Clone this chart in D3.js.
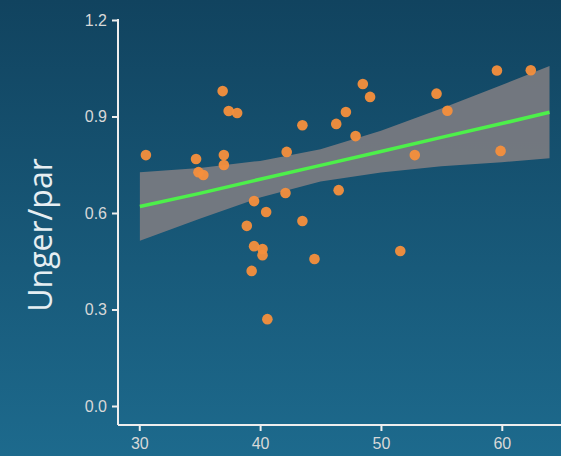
<!DOCTYPE html>
<html>
<head>
<meta charset="utf-8">
<script src="https://d3js.org/d3.v7.min.js"></script>
<style>
  body { margin: 0; padding: 0; overflow: hidden; }
  .axis text { font-family: "Liberation Sans", Arial, sans-serif; }
</style>
</head>
<body>
<div class="chart"></div>
<script>
// age of female vs chicks per pair
var alder = [30.55, 34.7, 34.9, 35.3, 36.9, 37.4, 38.1, 37.0, 37.0, 38.9, 39.5, 39.5, 40.2, 40.2, 39.3, 40.5, 40.6,
             42.2, 42.1, 43.5, 43.5, 44.5, 46.3, 46.5, 47.1, 47.9, 48.5, 49.1, 51.6, 52.8, 54.6, 55.5, 59.6, 59.9, 62.4];
var unger = [0.780, 0.768, 0.727, 0.718, 0.979, 0.917, 0.911, 0.780, 0.749, 0.560, 0.637, 0.497, 0.488, 0.469, 0.420, 0.603, 0.270,
             0.790, 0.662, 0.873, 0.575, 0.457, 0.877, 0.671, 0.914, 0.839, 1.001, 0.961, 0.482, 0.780, 0.971, 0.918, 1.043, 0.793, 1.044];

// smoother (lm)
var fitX     = [30.05, 35, 40, 45, 50, 55, 60, 63.95];
var fitY     = [0.620, 0.661, 0.705, 0.748, 0.791, 0.835, 0.878, 0.913];
var fitLower = [0.514, 0.582, 0.648, 0.698, 0.726, 0.745, 0.758, 0.770];
var fitUpper = [0.727, 0.740, 0.762, 0.798, 0.856, 0.925, 0.998, 1.057];

var xTicks = [30, 40, 50, 60];
var yTicks = [0.0, 0.3, 0.6, 0.9, 1.2];

var w = 561, h = 456;

var svg = d3.select("div.chart").append("svg")
    .attr("width", w)
    .attr("height", h);

var grad = svg.append("defs").append("linearGradient")
    .attr("id", "bg").attr("x1", 0).attr("y1", 0).attr("x2", 0).attr("y2", 1);
grad.append("stop").attr("offset", "0%").attr("stop-color", "#11435f");
grad.append("stop").attr("offset", "100%").attr("stop-color", "#1d6a8d");

svg.append("rect").attr("width", w).attr("height", h).attr("fill", "url(#bg)");

var xScale = d3.scaleLinear().domain([28.24, 64.9]).range([118, 561]);
var yScale = d3.scaleLinear().domain([0, 1.2]).range([406, 20]);

// ribbon
var band = d3.area()
    .x(function(d, i) { return xScale(fitX[i]); })
    .y0(function(d, i) { return yScale(fitLower[i]); })
    .y1(function(d, i) { return yScale(fitUpper[i]); });

svg.append("path")
    .attr("d", band(fitX))
    .attr("fill", "#7f7d82")
    .attr("opacity", 0.88);

// points
svg.append("g").selectAll("circle")
    .data(alder)
    .enter().append("circle")
    .attr("cx", function(d) { return xScale(d); })
    .attr("cy", function(d, i) { return yScale(unger[i]); })
    .attr("r", 5.3)
    .attr("fill", "#f68f3c")
    .attr("opacity", 0.95);

// fit line
var line = d3.line()
    .x(function(d, i) { return xScale(fitX[i]); })
    .y(function(d, i) { return yScale(fitY[i]); });

svg.append("path")
    .attr("d", line(fitX))
    .attr("fill", "none")
    .attr("stroke", "#4df04a")
    .attr("stroke-width", 3.5);

// axes
var xAxis = d3.axisBottom(xScale).tickValues(xTicks).tickFormat(d3.format("d")).tickSize(6).tickSizeOuter(0);
var yAxis = d3.axisLeft(yScale).tickValues(yTicks).tickFormat(d3.format(".1f")).tickSize(6).tickSizeOuter(0);

var gx = svg.append("g")
    .attr("class", "axis")
    .attr("transform", "translate(0," + 425 + ")")
    .call(xAxis);
var gy = svg.append("g")
    .attr("class", "axis")
    .attr("transform", "translate(" + 118 + ",0)")
    .call(yAxis);

gx.select(".domain").attr("d", "M118,0H561");
gy.select(".domain").attr("d", "M0,19V425");

svg.selectAll(".axis .domain").attr("stroke", "#eeeeee").attr("stroke-width", 2);
svg.selectAll(".axis line").attr("stroke", "#eeeeee").attr("stroke-width", 2);
svg.selectAll(".axis text").attr("fill", "#d8d8d8").attr("font-size", 16);
gx.selectAll("text").attr("dy", "0.95em");
gy.selectAll("text").attr("x", -11);

svg.append("text")
    .attr("transform", "translate(" + 52 + "," + 235 + ") rotate(-90)")
    .attr("text-anchor", "middle")
    .attr("fill", "#e6eef2")
    .attr("font-family", "Open Sans, sans-serif")
    .attr("font-size", 32)
    .text("Unger/par");
</script>
</body>
</html>
